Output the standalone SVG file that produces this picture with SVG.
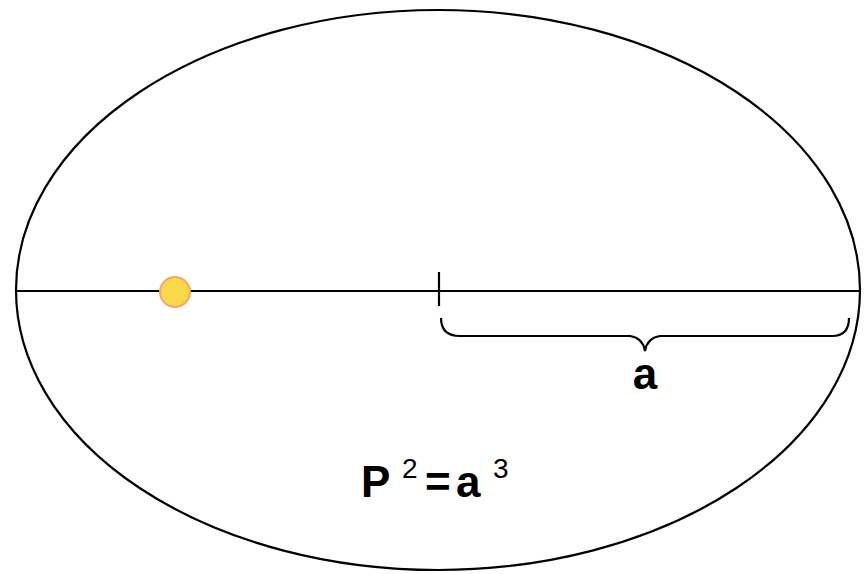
<svg xmlns="http://www.w3.org/2000/svg" width="867" height="574" viewBox="0 0 867 574">
<style>
.ln{fill:none;stroke:#000;stroke-width:2.2}
.b{font-family:"Liberation Sans",Arial,sans-serif;font-weight:bold;font-size:44px;fill:#000}
.s{font-family:"Liberation Sans",Arial,sans-serif;font-size:28px;fill:#000}
</style>
<rect width="867" height="574" fill="#fff"/>
<g id="orbit"><ellipse class="ln" cx="438" cy="290" rx="422" ry="280"/></g>
<g id="connectors">
<line class="ln" x1="16" y1="291" x2="860" y2="291"/>
<line class="ln" x1="439" y1="272" x2="439" y2="306"/>
<path class="ln" d="M441 318 Q441 336 460 336 L630 336 Q643 338 645 351 Q647 338 660 336 L832 336 Q849 336 849 318"/>
</g>
<g id="sun"><circle cx="175" cy="292" r="15" fill="#f9d84a" stroke="#f3a66b" stroke-width="2"/></g>
<g id="label-a"><text class="b" x="645" y="389" text-anchor="middle">a</text></g>
<g id="formula">
<text class="b" x="361" y="497">P</text>
<text class="s" x="402" y="478">2</text>
<text class="b" x="425" y="497">=</text>
<text class="b" x="456" y="497">a</text>
<text class="s" x="493" y="478">3</text>
</g>
</svg>
